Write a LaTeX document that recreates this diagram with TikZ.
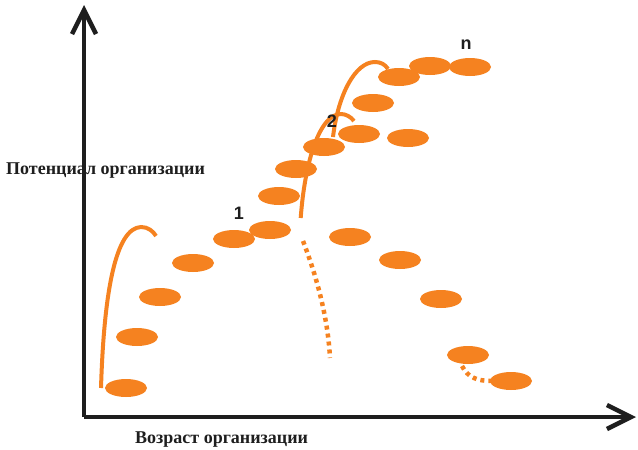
\documentclass[tikz,border=0pt]{standalone}
\usepackage{fontspec}
\setmainfont{Liberation Serif}
\newfontfamily\numfont{Liberation Sans}
\usetikzlibrary{shapes.geometric,arrows.meta}
\definecolor{orng}{RGB}{245,130,32}
\definecolor{axk}{RGB}{30,30,30}
\tikzset{
  blob/.style={ellipse, fill=orng, draw=none, minimum width=42pt, minimum height=18pt, inner sep=0pt},
  jump/.style={draw=orng, line width=4pt},
  fall/.style={draw=orng, line width=4.5pt, dash pattern=on 4pt off 4pt},
  axis/.style={draw=axk, line width=4.5pt, -{Straight Barb[length=24pt,width=24pt]}},
  numlbl/.style={font=\numfont\bfseries\fontsize{18}{20}\selectfont, text=axk, inner sep=0pt},
  axlbl/.style={font=\bfseries\fontsize{18}{20}\selectfont, text=axk, inner sep=0pt, anchor=west}
}
\begin{document}
\begin{tikzpicture}[x=1pt,y=-1pt]
\useasboundingbox (0,0) rectangle (638,450);
% labels
\node[axlbl] (ylab) at (6,171) {Потенциал организации};
\node[axlbl] (xlab) at (135,440) {Возраст организации};
% axes
\coordinate (O) at (84,417);
\coordinate (Ytop) at (84,5);
\coordinate (Xend) at (636,417);
\draw[axis] (O) -- (Ytop);
\draw[axis] (O) -- (Xend);
% jumps
\draw[jump] (101,388) .. controls (104,290) and (116,228) .. (141,227) .. controls (148,227) and (153,231) .. (156,236);
\draw[jump] (300.7,218) .. controls (305,160) and (320,114) .. (341,114) .. controls (346,114) and (351,117) .. (354,121);
\draw[jump] (333,137) .. controls (338,95) and (355,62) .. (375,62) .. controls (380,62) and (385,64) .. (388,69);
% falls
\draw[fall] (303,241) .. controls (318,280) and (328,320) .. (330,358);
\draw[fall] (462,366) .. controls (468,378) and (478,381) .. (492,381);
% blobs
\node[blob] (e1) at (126,388) {};
\node[blob] (e2) at (137,337) {};
\node[blob] (e3) at (160,297) {};
\node[blob] (e4) at (193,263) {};
\node[blob] (e5) at (234,239) {};
\node[blob] (e6) at (270,230) {};
\node[blob] (e7) at (279,196) {};
\node[blob] (e8) at (296,169) {};
\node[blob] (e9) at (324,147) {};
\node[blob] (e10) at (359,134) {};
\node[blob] (e11) at (408,138) {};
\node[blob] (e12) at (373,103) {};
\node[blob] (e13) at (399,77) {};
\node[blob] (e14) at (430,66) {};
\node[blob] (e15) at (470,67) {};
\node[blob] (e16) at (350,237) {};
\node[blob] (e17) at (400,260) {};
\node[blob] (e18) at (441,299) {};
\node[blob] (e19) at (468,355) {};
\node[blob] (e20) at (511,381) {};
% numbers
\node[numlbl] (n1) at (239,213) {1};
\node[numlbl] (n2) at (332,121) {2};
\node[numlbl] (nn) at (466,45) {n};
\end{tikzpicture}
\end{document}
